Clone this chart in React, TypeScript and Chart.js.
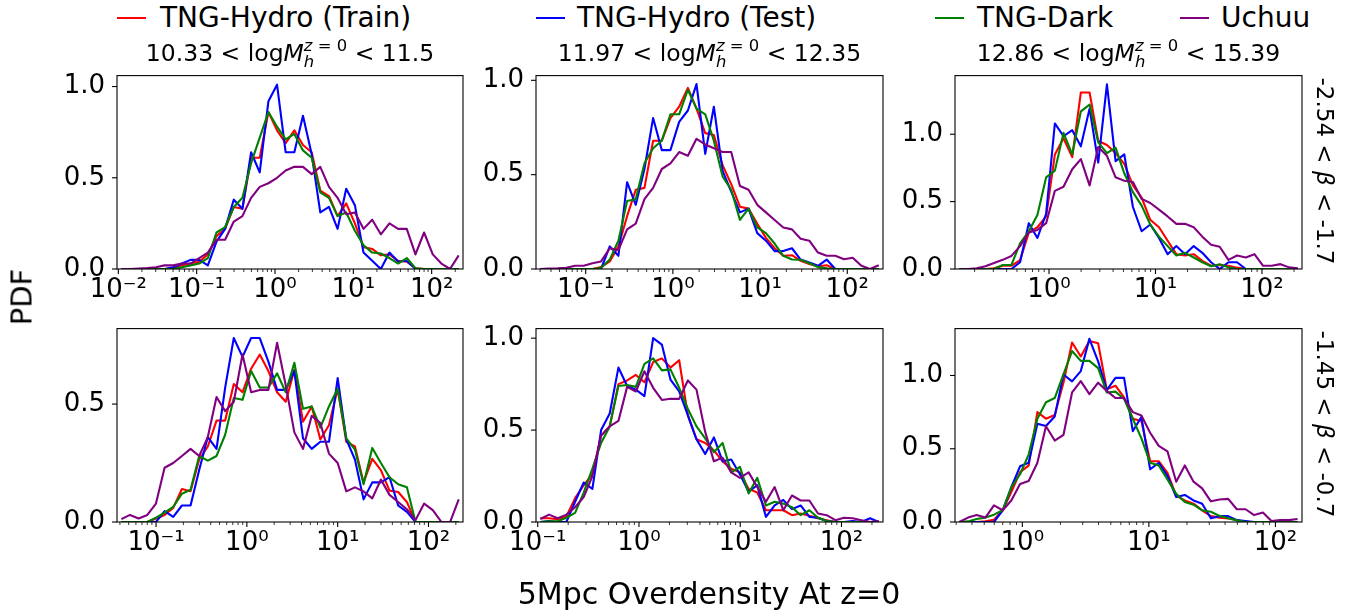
import React, { useEffect, useRef } from "react";
import { Chart, registerables } from "chart.js";

Chart.register(...registerables);

const FONT = "'DejaVu Sans', sans-serif";

const SERIES_NAMES = ["TNG-Hydro (Train)", "TNG-Hydro (Test)", "TNG-Dark", "Uchuu"];
const SERIES_COLORS = ["#ff0000", "#0000ff", "#008000", "#800080"];
const MASS_BINS = [["10.33", "11.5"], ["11.97", "12.35"], ["12.86", "15.39"]];
const BETA_BINS = [["-2.54", "-1.7"], ["-1.45", "-0.7"]];
const X_TICK_EXPONENTS = [-2, -1, 0, 1, 2];
const Y_TICK_VALUES = [0, 0.5, 1.0];
const X_AXIS_LABEL = "5Mpc Overdensity At z=0";
const Y_AXIS_LABEL = "PDF";

// ---------- Panel 1 (top-left) ----------
const P1_XLIM_LOG = [-2.017, 2.4];
const P1_YMAX = 1.06;
const P1_X_LOG = [-1.962, -1.851, -1.741, -1.63, -1.52, -1.41, -1.299, -1.189, -1.078, -0.968, -0.857, -0.747, -0.637, -0.526, -0.416, -0.305, -0.195, -0.084, 0.026, 0.136, 0.247, 0.357, 0.468, 0.578, 0.689, 0.799, 0.909, 1.02, 1.13, 1.241, 1.351, 1.461, 1.572, 1.682, 1.793, 1.903, 2.014, 2.124, 2.234, 2.345];
const P1_TRAIN = [0, 0, 0, 0, 0, 0, 0.004, 0.02, 0.03, 0.04, 0.08, 0.18, 0.22, 0.34, 0.33, 0.61, 0.61, 0.86, 0.76, 0.69, 0.76, 0.68, 0.64, 0.43, 0.4, 0.29, 0.36, 0.25, 0.12, 0.11, 0.075, 0.08, 0.045, 0.04, 0.004, 0, 0, 0, 0, 0];
const P1_TEST = [0, 0, 0, 0, 0, 0, 0.01, 0.03, 0.05, 0.05, 0.02, 0.15, 0.22, 0.38, 0.33, 0.64, 0.53, 0.92, 1.01, 0.64, 0.64, 0.84, 0.63, 0.31, 0.34, 0.22, 0.44, 0.35, 0.09, 0.045, 0, 0.09, 0.04, 0.045, 0, 0, 0, 0, 0, 0];
const P1_DARK = [0, 0, 0, 0, 0, 0, 0, 0.01, 0.02, 0.03, 0.06, 0.2, 0.23, 0.34, 0.39, 0.58, 0.72, 0.86, 0.78, 0.71, 0.74, 0.65, 0.61, 0.42, 0.39, 0.29, 0.31, 0.21, 0.13, 0.09, 0.085, 0.06, 0.03, 0.06, 0.004, 0, 0, 0, 0, 0];
const P1_UCHUU = [0, 0, 0.002, 0.005, 0.01, 0.02, 0.02, 0.03, 0.03, 0.06, 0.09, 0.16, 0.16, 0.26, 0.29, 0.39, 0.45, 0.47, 0.5, 0.54, 0.56, 0.56, 0.52, 0.56, 0.45, 0.39, 0.3, 0.31, 0.22, 0.27, 0.19, 0.25, 0.22, 0.22, 0.08, 0.2, 0.08, 0.03, 0, 0.075];

// ---------- Panel 2 (top-middle) ----------
const P2_XLIM_LOG = [-1.57, 2.41];
const P2_YMAX = 1.025;
const P2_X_LOG = [-1.52, -1.421, -1.321, -1.222, -1.122, -1.023, -0.923, -0.824, -0.724, -0.625, -0.525, -0.426, -0.326, -0.227, -0.127, -0.028, 0.072, 0.172, 0.271, 0.371, 0.47, 0.57, 0.669, 0.769, 0.868, 0.968, 1.067, 1.167, 1.266, 1.366, 1.465, 1.565, 1.664, 1.764, 1.863, 1.963, 2.062, 2.162, 2.261, 2.361];
const P2_TRAIN = [0, 0, 0, 0, 0, 0, 0, 0.01, 0.04, 0.12, 0.28, 0.42, 0.43, 0.68, 0.68, 0.8, 0.86, 0.96, 0.85, 0.72, 0.71, 0.55, 0.45, 0.33, 0.32, 0.24, 0.165, 0.11, 0.07, 0.073, 0.043, 0.026, 0.014, 0.02, 0, 0, 0, 0, 0, 0];
const P2_TEST = [0, 0, 0, 0, 0, 0, 0, 0, 0.12, 0.07, 0.46, 0.34, 0.53, 0.8, 0.63, 0.63, 0.78, 0.84, 0.98, 0.61, 0.86, 0.52, 0.41, 0.3, 0.32, 0.19, 0.15, 0.095, 0.095, 0.11, 0.05, 0.035, 0.017, 0.05, 0, 0, 0, 0, 0, 0];
const P2_DARK = [0, 0, 0, 0, 0, 0, 0, 0.005, 0.05, 0.15, 0.36, 0.37, 0.56, 0.64, 0.68, 0.82, 0.82, 0.95, 0.85, 0.82, 0.68, 0.49, 0.42, 0.26, 0.32, 0.22, 0.19, 0.135, 0.07, 0.05, 0.049, 0.03, 0.01, 0.004, 0, 0, 0, 0, 0, 0];
const P2_UCHUU = [0, 0.002, 0.004, 0.007, 0.017, 0.017, 0.03, 0.04, 0.11, 0.1, 0.21, 0.24, 0.37, 0.43, 0.53, 0.56, 0.62, 0.6, 0.69, 0.66, 0.64, 0.62, 0.62, 0.44, 0.42, 0.34, 0.3, 0.26, 0.22, 0.21, 0.16, 0.15, 0.087, 0.07, 0.07, 0.052, 0.06, 0.017, 0, 0.02];

// ---------- Panel 3 (top-right) ----------
const P3_XLIM_LOG = [-0.883, 2.376];
const P3_YMAX = 1.435;
const P3_X_LOG = [-0.842, -0.761, -0.679, -0.598, -0.516, -0.435, -0.353, -0.272, -0.19, -0.109, -0.027, 0.055, 0.136, 0.218, 0.299, 0.381, 0.462, 0.544, 0.625, 0.707, 0.788, 0.87, 0.951, 1.033, 1.114, 1.196, 1.277, 1.359, 1.44, 1.522, 1.603, 1.685, 1.766, 1.848, 1.929, 2.011, 2.092, 2.174, 2.255, 2.337];
const P3_TRAIN = [0, 0, 0, 0, 0.005, 0.024, 0.024, 0.066, 0.27, 0.31, 0.39, 0.85, 0.97, 0.83, 1.31, 1.31, 0.95, 0.92, 0.86, 0.78, 0.62, 0.53, 0.365, 0.31, 0.21, 0.11, 0.1, 0.11, 0.06, 0.024, 0.03, 0.024, 0.01, 0, 0, 0, 0, 0, 0, 0];
const P3_TEST = [0, 0, 0, 0, 0, 0, 0, 0.05, 0.34, 0.23, 0.41, 1.08, 0.985, 1.03, 0.91, 1.19, 0.79, 1.37, 0.8, 0.85, 0.46, 0.28, 0.33, 0.23, 0.11, 0.17, 0.11, 0.17, 0.12, 0.05, 0, 0.05, 0.05, 0, 0, 0, 0, 0, 0, 0];
const P3_DARK = [0, 0, 0, 0, 0, 0.03, 0.03, 0.19, 0.28, 0.4, 0.68, 0.73, 1.01, 0.85, 1.17, 1.22, 0.94, 0.86, 0.9, 0.71, 0.57, 0.47, 0.33, 0.24, 0.17, 0.1, 0.12, 0.085, 0.05, 0.02, 0.036, 0.012, 0, 0, 0, 0, 0, 0, 0, 0];
const P3_UCHUU = [0, 0, 0.005, 0.02, 0.044, 0.068, 0.097, 0.17, 0.27, 0.29, 0.34, 0.58, 0.61, 0.74, 0.815, 0.62, 0.905, 0.84, 0.68, 0.655, 0.645, 0.52, 0.49, 0.44, 0.39, 0.335, 0.335, 0.31, 0.24, 0.18, 0.165, 0.068, 0.1, 0.085, 0.11, 0.024, 0.024, 0.036, 0.012, 0.005];

// ---------- Panel 4 (bottom-left) ----------
const P4_XLIM_LOG = [-1.43, 2.38];
const P4_YMAX = 0.82;
const P4_X_LOG = [-1.382, -1.287, -1.192, -1.096, -1.001, -0.906, -0.811, -0.715, -0.62, -0.525, -0.43, -0.334, -0.239, -0.144, -0.048, 0.047, 0.142, 0.237, 0.333, 0.428, 0.523, 0.618, 0.714, 0.809, 0.904, 1.0, 1.095, 1.19, 1.285, 1.381, 1.476, 1.571, 1.666, 1.762, 1.857, 1.952, 2.047, 2.143, 2.238, 2.333];
const P4_TRAIN = [0, 0, 0, 0, 0.015, 0.03, 0.06, 0.14, 0.13, 0.265, 0.32, 0.43, 0.43, 0.585, 0.55, 0.65, 0.71, 0.64, 0.55, 0.51, 0.645, 0.425, 0.49, 0.35, 0.41, 0.565, 0.34, 0.32, 0.168, 0.268, 0.22, 0.133, 0.127, 0.085, 0, 0, 0, 0, 0, 0];
const P4_TEST = [0, 0, 0, 0, 0, 0.046, 0.022, 0.07, 0.07, 0.22, 0.36, 0.31, 0.57, 0.78, 0.7, 0.78, 0.78, 0.68, 0.56, 0.56, 0.64, 0.355, 0.31, 0.34, 0.34, 0.61, 0.35, 0.265, 0.096, 0.168, 0.168, 0.19, 0.07, 0.043, 0, 0, 0, 0, 0, 0];
const P4_DARK = [0, 0, 0, 0, 0.018, 0.04, 0.064, 0.12, 0.137, 0.28, 0.26, 0.28, 0.37, 0.526, 0.518, 0.64, 0.57, 0.57, 0.63, 0.55, 0.675, 0.48, 0.49, 0.4, 0.49, 0.565, 0.355, 0.307, 0.16, 0.314, 0.25, 0.19, 0.16, 0.147, 0, 0, 0, 0, 0, 0];
const P4_UCHUU = [0.012, 0.03, 0.015, 0.03, 0.078, 0.23, 0.25, 0.28, 0.31, 0.28, 0.36, 0.53, 0.47, 0.51, 0.71, 0.55, 0.56, 0.56, 0.76, 0.58, 0.38, 0.31, 0.45, 0.42, 0.29, 0.25, 0.13, 0.147, 0.13, 0.1, 0.18, 0.115, 0.085, 0.054, 0.008, 0.078, 0.05, 0, 0, 0.096];

// ---------- Panel 5 (bottom-middle) ----------
const P5_XLIM_LOG = [-1.017, 2.41];
const P5_YMAX = 1.052;
const P5_X_LOG = [-0.974, -0.888, -0.803, -0.717, -0.631, -0.546, -0.46, -0.374, -0.289, -0.203, -0.117, -0.031, 0.054, 0.14, 0.226, 0.311, 0.397, 0.483, 0.568, 0.654, 0.74, 0.826, 0.911, 0.997, 1.083, 1.168, 1.254, 1.34, 1.425, 1.511, 1.597, 1.683, 1.768, 1.854, 1.94, 2.025, 2.111, 2.197, 2.282, 2.368];
const P5_TRAIN = [0.02, 0.02, 0.015, 0.03, 0.13, 0.2, 0.26, 0.47, 0.52, 0.75, 0.77, 0.8, 0.76, 0.87, 0.89, 0.84, 0.88, 0.58, 0.45, 0.43, 0.39, 0.33, 0.29, 0.27, 0.18, 0.16, 0.064, 0.064, 0.064, 0.037, 0.046, 0.034, 0.02, 0.01, 0, 0, 0, 0, 0, 0];
const P5_TEST = [0, 0.005, 0, 0, 0.11, 0.215, 0.18, 0.5, 0.59, 0.84, 0.74, 0.72, 0.685, 1.0, 0.965, 0.775, 0.71, 0.58, 0.45, 0.37, 0.46, 0.33, 0.34, 0.26, 0.165, 0.2, 0.028, 0.09, 0.12, 0.07, 0.09, 0.028, 0.023, 0.005, 0, 0, 0.005, 0, 0.02, 0];
const P5_DARK = [0, 0.004, 0.004, 0.023, 0.05, 0.16, 0.29, 0.43, 0.52, 0.74, 0.745, 0.735, 0.86, 0.89, 0.825, 0.83, 0.73, 0.615, 0.52, 0.455, 0.38, 0.43, 0.27, 0.3, 0.155, 0.24, 0.09, 0.11, 0.1, 0.08, 0.037, 0.064, 0.023, 0.005, 0, 0, 0, 0, 0, 0];
const P5_UCHUU = [0.016, 0.04, 0.02, 0.04, 0.08, 0.135, 0.25, 0.47, 0.52, 0.55, 0.735, 0.71, 0.82, 0.73, 0.664, 0.67, 0.67, 0.77, 0.72, 0.49, 0.33, 0.35, 0.27, 0.24, 0.27, 0.19, 0.11, 0.19, 0.064, 0.144, 0.117, 0.117, 0.046, 0.037, 0.01, 0.023, 0.02, 0.01, 0, 0.005];

// ---------- Panel 6 (bottom-right) ----------
const P6_XLIM_LOG = [-0.532, 2.21];
const P6_YMAX = 1.32;
const P6_X_LOG = [-0.498, -0.429, -0.361, -0.292, -0.224, -0.155, -0.087, -0.018, 0.05, 0.119, 0.187, 0.256, 0.325, 0.393, 0.462, 0.53, 0.599, 0.667, 0.736, 0.804, 0.873, 0.941, 1.01, 1.078, 1.147, 1.216, 1.284, 1.353, 1.421, 1.49, 1.558, 1.627, 1.695, 1.764, 1.832, 1.901, 1.969, 2.038, 2.106, 2.175];
const P6_TRAIN = [0, 0, 0, 0.005, 0.015, 0.08, 0.205, 0.34, 0.385, 0.75, 0.705, 0.73, 0.95, 1.225, 1.13, 1.235, 1.22, 0.905, 0.93, 0.85, 0.705, 0.69, 0.415, 0.415, 0.335, 0.18, 0.147, 0.125, 0.08, 0.04, 0.03, 0.025, 0.013, 0, 0, 0, 0, 0, 0, 0];
const P6_TEST = [0, 0, 0, 0, 0, 0.08, 0.237, 0.38, 0.405, 0.67, 0.655, 0.72, 1.007, 0.96, 1.03, 1.25, 1.096, 0.9, 0.984, 0.984, 0.62, 0.717, 0.36, 0.404, 0.315, 0.17, 0.185, 0.147, 0.125, 0.025, 0.04, 0.04, 0.013, 0.007, 0, 0, 0, 0, 0, 0];
const P6_DARK = [0, 0.004, 0.02, 0.03, 0.05, 0.08, 0.237, 0.326, 0.46, 0.705, 0.817, 0.846, 1.007, 1.167, 1.1, 1.1, 1.05, 0.884, 0.89, 0.84, 0.705, 0.571, 0.404, 0.386, 0.29, 0.192, 0.136, 0.118, 0.08, 0.07, 0.042, 0.025, 0.011, 0, 0, 0, 0, 0, 0, 0];
const P6_UCHUU = [0, 0.03, 0.047, 0.03, 0.114, 0.08, 0.147, 0.26, 0.28, 0.404, 0.654, 0.556, 0.594, 0.884, 0.962, 0.873, 0.951, 0.895, 0.846, 0.846, 0.75, 0.727, 0.609, 0.52, 0.482, 0.275, 0.386, 0.275, 0.23, 0.141, 0.154, 0.158, 0.087, 0.087, 0.047, 0.065, 0.007, 0.013, 0.013, 0.02];

const PANEL_DATA = [
  { xLim: P1_XLIM_LOG, yMax: P1_YMAX, x: P1_X_LOG, series: [P1_TRAIN, P1_TEST, P1_DARK, P1_UCHUU] },
  { xLim: P2_XLIM_LOG, yMax: P2_YMAX, x: P2_X_LOG, series: [P2_TRAIN, P2_TEST, P2_DARK, P2_UCHUU] },
  { xLim: P3_XLIM_LOG, yMax: P3_YMAX, x: P3_X_LOG, series: [P3_TRAIN, P3_TEST, P3_DARK, P3_UCHUU] },
  { xLim: P4_XLIM_LOG, yMax: P4_YMAX, x: P4_X_LOG, series: [P4_TRAIN, P4_TEST, P4_DARK, P4_UCHUU] },
  { xLim: P5_XLIM_LOG, yMax: P5_YMAX, x: P5_X_LOG, series: [P5_TRAIN, P5_TEST, P5_DARK, P5_UCHUU] },
  { xLim: P6_XLIM_LOG, yMax: P6_YMAX, x: P6_X_LOG, series: [P6_TRAIN, P6_TEST, P6_DARK, P6_UCHUU] },
];

// plot-area boxes on the page
const PANEL_BOXES = [
  { left: 117, top: 72, width: 346, height: 197 },
  { left: 536, top: 72, width: 347, height: 197 },
  { left: 955, top: 72, width: 347, height: 197 },
  { left: 117, top: 325, width: 346, height: 197 },
  { left: 536, top: 325, width: 347, height: 197 },
  { left: 955, top: 325, width: 347, height: 197 },
];

const PAD_LEFT = 80;
const PAD_TOP = 24;
const PAD_RIGHT = 30;
const PAD_BOTTOM = 48;
const TICK_FONT_SIZE = 26;

const SUP: Record<string, string> = { "-": "\u207B", "0": "\u2070", "1": "\u00B9", "2": "\u00B2", "3": "\u00B3" };
const supText = (n: number) => String(n).split("").map((c) => SUP[c] || c).join("");

const frameAndTicks = {
  id: "frameAndTicks",
  afterDraw(chart: any) {
    const { ctx, chartArea: a, scales } = chart;
    const xs = scales.x;
    const ys = scales.y;
    ctx.save();
    ctx.strokeStyle = "#000";
    ctx.lineCap = "butt";
    for (let e = -3; e <= 3; e++) {
      for (let k = 1; k <= 9; k++) {
        const v = k * Math.pow(10, e);
        if (v < xs.min || v > xs.max) continue;
        const px = xs.getPixelForValue(v);
        const major = k === 1;
        ctx.lineWidth = major ? 1.1 : 0.8;
        ctx.beginPath();
        ctx.moveTo(px, a.bottom);
        ctx.lineTo(px, a.bottom + (major ? 5 : 3));
        ctx.stroke();
      }
    }
    ctx.lineWidth = 1.1;
    for (const v of Y_TICK_VALUES) {
      if (v > ys.max) continue;
      const py = ys.getPixelForValue(v);
      ctx.beginPath();
      ctx.moveTo(a.left - 5, py);
      ctx.lineTo(a.left, py);
      ctx.stroke();
    }
    ctx.lineWidth = 1.1;
    ctx.strokeRect(a.left, a.top, a.right - a.left, a.bottom - a.top);
    ctx.restore();
  },
};

function Panel({ index }: { index: number }) {
  const ref = useRef<HTMLCanvasElement>(null);
  const data = PANEL_DATA[index];
  const box = PANEL_BOXES[index];
  const cw = box.width + PAD_LEFT + PAD_RIGHT;
  const ch = box.height + PAD_TOP + PAD_BOTTOM;

  useEffect(() => {
    if (!ref.current) return;
    const xMin = Math.pow(10, data.xLim[0]);
    const xMax = Math.pow(10, data.xLim[1]);
    const datasets = data.series.map((ys, si) => ({
      label: SERIES_NAMES[si],
      data: ys.map((y, i) => ({ x: Math.pow(10, data.x[i]), y })),
      borderColor: SERIES_COLORS[si],
      backgroundColor: SERIES_COLORS[si],
      borderWidth: 2.1,
      pointRadius: 0,
      tension: 0,
      fill: false,
      borderJoinStyle: "round" as const,
      order: 4 - si,
    }));
    const chart = new Chart(ref.current, {
      type: "line",
      data: { datasets },
      options: {
        responsive: false,
        animation: false,
        devicePixelRatio: 1,
        layout: { padding: { top: PAD_TOP, right: PAD_RIGHT, left: 0, bottom: 0 } },
        plugins: { legend: { display: false }, tooltip: { enabled: false }, title: { display: false } },
        scales: {
          x: {
            type: "logarithmic",
            min: xMin,
            max: xMax,
            grid: { display: false, drawTicks: false },
            border: { display: false },
            ticks: {
              autoSkip: false,
              maxRotation: 0,
              minRotation: 0,
              padding: 6,
              color: "#000",
              font: { family: FONT, size: TICK_FONT_SIZE },
              callback: (v: any) => "10" + supText(Math.round(Math.log10(Number(v)))),
            },
            afterBuildTicks: (s: any) => {
              s.ticks = X_TICK_EXPONENTS.map((e) => Math.pow(10, e))
                .filter((v) => v >= xMin && v <= xMax)
                .map((v) => ({ value: v, major: true }));
            },
            afterFit: (s: any) => {
              s.height = PAD_BOTTOM;
            },
          },
          y: {
            type: "linear",
            min: 0,
            max: data.yMax,
            grid: { display: false, drawTicks: false },
            border: { display: false },
            ticks: {
              padding: 12,
              color: "#000",
              font: { family: FONT, size: TICK_FONT_SIZE },
              callback: (v: any) => Number(v).toFixed(1),
            },
            afterBuildTicks: (s: any) => {
              s.ticks = Y_TICK_VALUES.filter((v) => v <= data.yMax).map((v) => ({ value: v }));
            },
            afterFit: (s: any) => {
              s.width = PAD_LEFT;
            },
          },
        },
      } as any,
      plugins: [frameAndTicks],
    });
    return () => chart.destroy();
  }, []);

  return (
    <canvas
      ref={ref}
      width={cw}
      height={ch}
      style={{ position: "absolute", left: box.left - PAD_LEFT, top: box.top - PAD_TOP, width: cw, height: ch }}
    />
  );
}

const LEGEND_POS = [
  { lineX: 117, textX: 160 },
  { lineX: 536, textX: 577 },
  { lineX: 935, textX: 977 },
  { lineX: 1180, textX: 1221 },
];

export default function App() {
  return (
    <div
      style={{
        position: "absolute",
        left: 0,
        top: 0,
        width: 1357,
        height: 612,
        background: "#fff",
        fontFamily: FONT,
        color: "#000",
        overflow: "hidden",
      }}
    >
      {PANEL_DATA.map((_, i) => (
        <Panel key={i} index={i} />
      ))}

      {/* legend */}
      {SERIES_NAMES.map((name, i) => (
        <React.Fragment key={name}>
          <div
            style={{
              position: "absolute",
              left: LEGEND_POS[i].lineX,
              top: 17,
              width: 29,
              height: 2,
              background: SERIES_COLORS[i],
            }}
          />
          <div
            style={{
              position: "absolute",
              left: LEGEND_POS[i].textX,
              top: 4,
              fontSize: 28,
              lineHeight: "28px",
              whiteSpace: "nowrap",
            }}
          >
            {name}
          </div>
        </React.Fragment>
      ))}

      {/* column titles */}
      {MASS_BINS.map(([lo, hi], i) => {
        const b = PANEL_BOXES[i];
        return (
          <div
            key={lo}
            style={{
              position: "absolute",
              left: b.left + b.width / 2,
              top: 42.2,
              transform: "translateX(-50%)",
              fontSize: 23.5,
              lineHeight: "23.5px",
              whiteSpace: "nowrap",
            }}
          >
            {lo} &lt; log<i>M</i>
            <span style={{ position: "relative" }}>
              <span style={{ position: "relative", top: "-10px", fontSize: "0.7em" }}>
                <i>z</i> = 0
              </span>
              <span
                style={{ position: "absolute", left: 0, top: "14.5px", fontSize: "0.7em", lineHeight: 1 }}
              >
                <i>h</i>
              </span>
            </span>{" "}
            &lt; {hi}
          </div>
        );
      })}

      {/* row labels (right side) */}
      {BETA_BINS.map(([lo, hi], i) => {
        const b = PANEL_BOXES[3 * i + 2];
        return (
          <div
            key={lo}
            style={{
              position: "absolute",
              left: 1324,
              top: b.top + b.height / 2,
              transform: "translate(-50%, -50%) rotate(90deg)",
              fontSize: 23,
              lineHeight: "23px",
              whiteSpace: "nowrap",
            }}
          >
            {lo} &lt; <i>β</i> &lt; {hi}
          </div>
        );
      })}

      {/* y axis label */}
      <div
        style={{
          position: "absolute",
          left: 22,
          top: 297,
          transform: "translate(-50%, -50%) rotate(-90deg)",
          fontSize: 29,
          lineHeight: "29px",
          whiteSpace: "nowrap",
        }}
      >
        {Y_AXIS_LABEL}
      </div>

      {/* x axis label */}
      <div
        style={{
          position: "absolute",
          left: 709,
          top: 578.6,
          transform: "translateX(-50%)",
          fontSize: 30,
          lineHeight: "30px",
          whiteSpace: "nowrap",
        }}
      >
        {X_AXIS_LABEL}
      </div>
    </div>
  );
}
